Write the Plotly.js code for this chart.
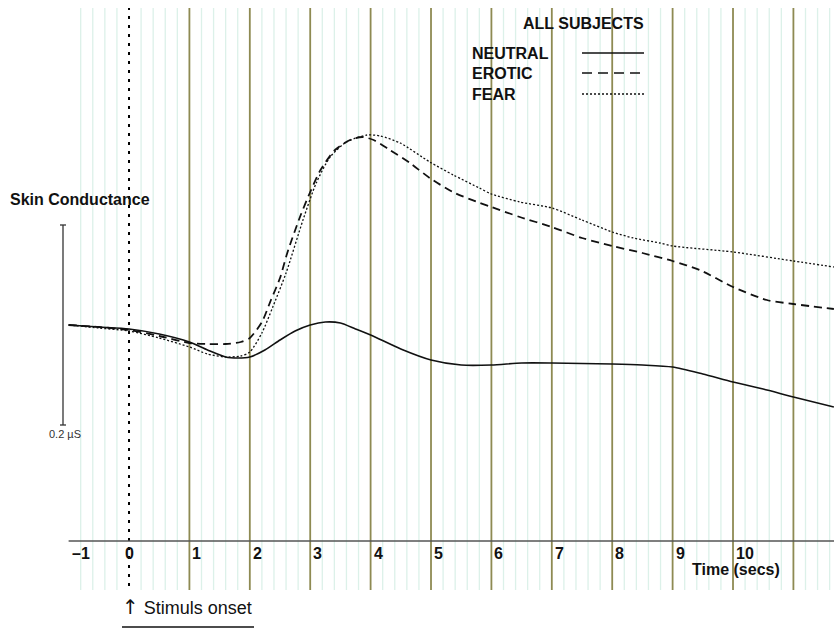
<!DOCTYPE html>
<html>
<head>
<meta charset="utf-8">
<script src="https://cdn.plot.ly/plotly-3.0.1.min.js"></script>
<style>html,body{margin:0;padding:0;background:#fff;}#chart{width:834px;height:630px;}</style>
</head>
<body>
<div id="chart"></div>
<script>
// Time (s) and skin conductance (µS, relative to the time axis)
const neutralT = [-1,-0.5,0,0.5,1,1.3,1.6,1.8,2,2.25,2.5,2.75,3,3.25,3.5,3.75,4,4.5,5,5.5,6,6.5,7,7.5,8,8.5,9,9.5,10,10.5,11,11.67];
const neutralY = [0.216,0.214,0.212,0.207,0.199,0.191,0.184,0.183,0.184,0.191,0.201,0.210,0.216,0.219,0.218,0.212,0.206,0.192,0.181,0.176,0.176,0.178,0.178,0.1775,0.177,0.176,0.174,0.167,0.159,0.152,0.144,0.134];

const eroticT = [-1,-0.5,0,0.5,1,1.3,1.6,1.85,2,2.2,2.35,2.5,2.62,2.83,3,3.17,3.41,3.66,3.86,4.05,4.32,4.65,4.98,5.36,5.81,6,6.47,7,7.5,8,8.5,9,9.45,10,10.56,11,11.67];
const eroticY = [0.216,0.214,0.211,0.205,0.198,0.197,0.197,0.199,0.203,0.219,0.241,0.263,0.288,0.324,0.349,0.371,0.391,0.401,0.404,0.401,0.391,0.378,0.363,0.349,0.338,0.334,0.324,0.314,0.303,0.295,0.288,0.280,0.271,0.254,0.241,0.237,0.232];

const fearT = [-1,-0.5,0,0.5,1,1.3,1.6,1.85,2,2.2,2.38,2.6,2.88,3.1,3.33,3.6,3.94,4.16,4.49,4.98,5.37,5.8,6,6.47,7,7.5,8,8.35,8.79,9,10,11,11.67];
const fearY = [0.216,0.213,0.210,0.203,0.194,0.187,0.184,0.185,0.189,0.208,0.234,0.268,0.321,0.358,0.384,0.399,0.406,0.405,0.398,0.379,0.366,0.353,0.347,0.339,0.333,0.321,0.309,0.303,0.298,0.295,0.289,0.280,0.274];

const tickVals = [-1,0,1,2,3,4,5,6,7,8,9,10];
const tickText = ['\u20131','0','1','2','3','4','5','6','7','8','9','10'];
const majorGrid = [1,2,3,4,5,6,7,8,9,10,11];
const seriesNames = ['NEUTRAL','EROTIC','FEAR'];
const scaleBar = 0.2; // µS

const FONT = '"Liberation Sans", Arial, Helvetica, sans-serif';
const W = 834, H = 630;
const px = X => X / W;           // paper x from pixel
const py = Y => 1 - Y / H;       // paper y from pixel

const xRange = [-2.136, 11.672];
const yRange = [-0.089, 0.541];
const gridTop = 0.533, gridBot = -0.049;

const shapes = [];
// minor grid every 0.2 s
for (let i = -4; i <= 58; i++) {
  const t = i / 5;
  if (Math.abs(t - Math.round(t)) < 1e-6) continue;
  shapes.push({type:'line', layer:'below', xref:'x', yref:'y', x0:t, x1:t, y0:gridBot, y1:gridTop,
    line:{color:'#dcf1e9', width:1.3}});
}
majorGrid.forEach(t => shapes.push({type:'line', layer:'below', xref:'x', yref:'y', x0:t, x1:t, y0:gridBot, y1:gridTop,
  line:{color:'#8e8a52', width:1.8}}));
// stimulus onset dotted line
shapes.push({type:'line', layer:'below', xref:'x', yref:'y', x0:0, x1:0, y0:gridBot+0.004, y1:gridTop,
  line:{color:'#000', width:2, dash:'3px,6px'}});
// white legend box
shapes.push({type:'rect', layer:'below', xref:'paper', yref:'paper', x0:px(458), x1:px(683), y0:py(130), y1:1,
  fillcolor:'#fff', line:{width:0}});
// time axis line
shapes.push({type:'line', layer:'below', xref:'x', yref:'y', x0:-1, x1:xRange[1], y0:0, y1:0,
  line:{color:'#555', width:1.5}});
// scale bar 0.2 µS
const sbX = -1.093, sbY0 = 0.116;
shapes.push({type:'line', xref:'x', yref:'y', x0:sbX, x1:sbX, y0:sbY0, y1:sbY0+scaleBar, line:{color:'#333', width:1.3}});
shapes.push({type:'line', xref:'x', yref:'y', x0:sbX-0.05, x1:sbX+0.05, y0:sbY0, y1:sbY0, line:{color:'#333', width:1.3}});
shapes.push({type:'line', xref:'x', yref:'y', x0:sbX-0.05, x1:sbX+0.05, y0:sbY0+scaleBar, y1:sbY0+scaleBar, line:{color:'#333', width:1.3}});
// legend samples
const legY = [53, 73, 94];
const legDash = ['solid','10px,6px','2px,2px'];
const legW = [1.5, 1.5, 1.3];
legY.forEach((Y,i) => shapes.push({type:'line', xref:'paper', yref:'paper', x0:px(582), x1:px(644), y0:py(Y), y1:py(Y),
  line:{color:'#111', width:legW[i], dash:legDash[i]}}));
// underline of stimulus onset
shapes.push({type:'line', xref:'paper', yref:'paper', x0:px(122), x1:px(254), y0:py(627), y1:py(627), line:{color:'#111', width:1.5}});

const annotations = [];
tickVals.forEach((v,i) => annotations.push({xref:'x', yref:'y', x:v, y:0,
  xanchor: v === 0 ? 'center' : 'left', yanchor:'middle',
  xshift: v === 0 ? 0 : 1, yshift:-12, text:'<b>'+tickText[i]+'</b>', showarrow:false, font:{family:FONT, size:16, color:'#111'}}));
annotations.push({xref:'paper', yref:'paper', x:px(736), y:py(569), xanchor:'center', yanchor:'middle',
  text:'<b>Time (secs)</b>', showarrow:false, font:{family:FONT, size:16, color:'#111'}});
annotations.push({xref:'paper', yref:'paper', x:px(583), y:py(24), xanchor:'center', yanchor:'middle',
  text:'<b>ALL SUBJECTS</b>', showarrow:false, font:{family:FONT, size:16, color:'#111'}});
legY.forEach((Y,i) => annotations.push({xref:'paper', yref:'paper', x:px(470), y:py(Y), xanchor:'left', yanchor:'middle',
  text:'<b>'+seriesNames[i]+'</b>', showarrow:false, font:{family:FONT, size:16, color:'#111'}}));
annotations.push({xref:'paper', yref:'paper', x:px(8), y:py(199), xanchor:'left', yanchor:'middle',
  text:'<b>Skin Conductance</b>', showarrow:false, font:{family:FONT, size:16, color:'#111'}});
annotations.push({xref:'paper', yref:'paper', x:px(47), y:py(434), xanchor:'left', yanchor:'middle',
  text:'0.2 \u00b5S', showarrow:false, font:{family:FONT, size:11, color:'#333'}});
annotations.push({xref:'paper', yref:'paper', x:px(120), y:py(607), xanchor:'left', yanchor:'middle',
  text:'<span style="font-family:\'DejaVu Sans\';font-size:20px">\u2191</span> Stimuls onset', showarrow:false, font:{family:FONT, size:18, color:'#111'}});

const traces = [
  {x:neutralT, y:neutralY, name:seriesNames[0], mode:'lines', line:{color:'#111', width:1.6, shape:'spline', smoothing:0.7}},
  {x:eroticT, y:eroticY, name:seriesNames[1], mode:'lines', line:{color:'#111', width:1.8, dash:'8px,5px', shape:'spline', smoothing:0.7}},
  {x:fearT, y:fearY, name:seriesNames[2], mode:'lines', line:{color:'#111', width:1.3, dash:'2px,2px', shape:'spline', smoothing:0.7}}
];

const layout = {
  width:W, height:H,
  margin:{l:0, r:0, t:0, b:0},
  paper_bgcolor:'#fff', plot_bgcolor:'#fff',
  showlegend:false,
  xaxis:{range:xRange, visible:false, fixedrange:true},
  yaxis:{range:yRange, visible:false, fixedrange:true},
  shapes:shapes, annotations:annotations,
  font:{family:FONT}
};
Plotly.newPlot('chart', traces, layout, {displayModeBar:false, staticPlot:true});
</script>
</body>
</html>
